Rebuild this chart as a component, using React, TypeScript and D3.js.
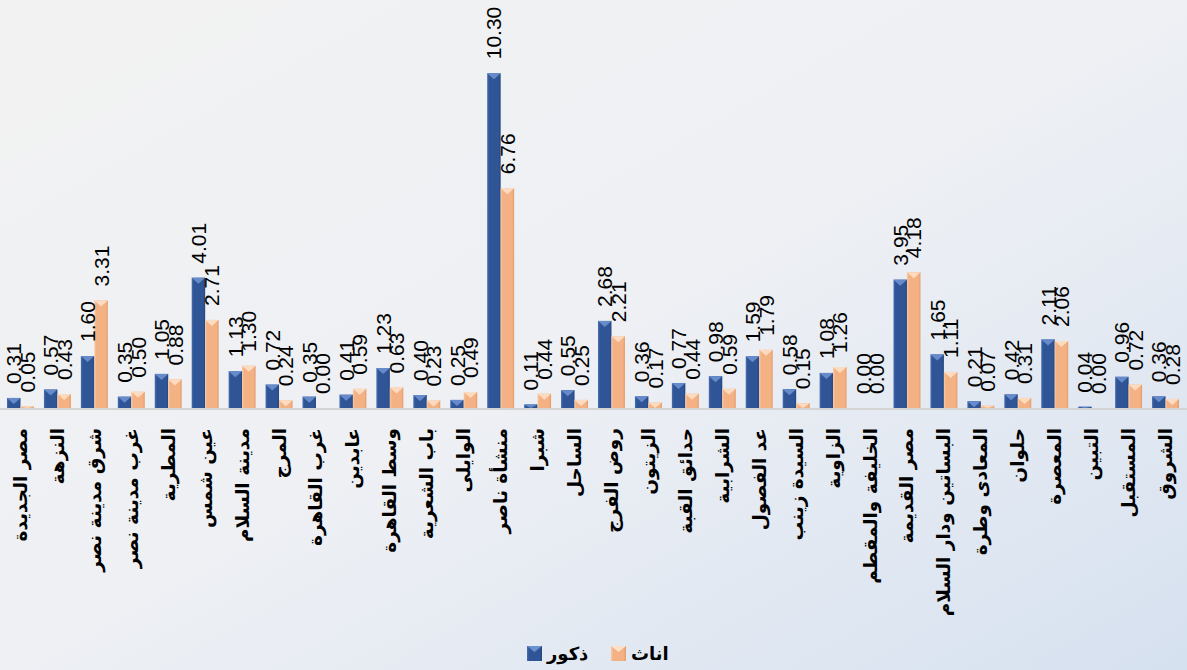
import React from "react";
import * as d3 from "d3";

const categories = [
  "مصر الجديدة", "النزهة", "شرق مدينة نصر", "غرب مدينة نصر", "المطرية", "عين شمس",
  "مدينة السلام", "المرج", "غرب القاهرة", "عابدين", "وسط القاهرة", "باب الشعرية",
  "الوايلى", "منشأة ناصر", "شبرا", "الساحل", "روض الفرج", "الزيتون", "حدائق القبة",
  "الشرابية", "عد الفصول", "السيدة زينب", "الزاوية", "الخليفة والمقطم", "مصر القديمة",
  "البساتين ودار السلام", "المعادى وطرة", "حلوان", "المعصرة", "التبين", "المستقبل", "الشروق",
];
const males = [
  0.31, 0.57, 1.60, 0.35, 1.05, 4.01, 1.13, 0.72, 0.35, 0.41, 1.23, 0.40, 0.25, 10.30,
  0.11, 0.55, 2.68, 0.36, 0.77, 0.98, 1.59, 0.58, 1.08, 0.00, 3.95, 1.65, 0.21, 0.42,
  2.11, 0.04, 0.96, 0.36,
];
const females = [
  0.05, 0.43, 3.31, 0.50, 0.88, 2.71, 1.30, 0.24, 0.00, 0.59, 0.63, 0.23, 0.49, 6.76,
  0.44, 0.25, 2.21, 0.17, 0.44, 0.59, 1.79, 0.15, 1.26, 0.00, 4.18, 1.11, 0.07, 0.31,
  2.06, 0.00, 0.72, 0.28,
];
const seriesNames = ["ذكور", "اناث"];
const seriesKeys = ["m", "f"];

const W = 1187;
const H = 670;
const BASE = 408;

const palette: Record<string, { main: string; light: string; dark: string; top: string }> = {
  m: { main: "#2F5597", light: "#4a70b3", dark: "#24457e", top: "#6d90cf" },
  f: { main: "#F4B183", light: "#f9c9a5", dark: "#e39b6b", top: "#fde0c8" },
};

export default function App() {
  const x = d3.scaleBand<string>().domain(categories).range([2, 1184]).paddingInner(0.27).paddingOuter(0.135);
  const xs = d3.scaleBand<string>().domain(seriesKeys).range([0, x.bandwidth()]);
  const y = d3.scaleLinear().domain([0, 12]).range([BASE, 18]);
  const values: Record<string, number[]> = { m: males, f: females };

  const bars: React.ReactNode[] = [];
  const labels: React.ReactNode[] = [];
  categories.forEach((c, i) => {
    seriesKeys.forEach((k) => {
      const v = values[k][i];
      const bx = (x(c) ?? 0) + (xs(k) ?? 0);
      const bw = xs.bandwidth();
      const top = y(v);
      const h = BASE - top;
      if (h > 0.3) {
        const tri = Math.min(6, h);
        bars.push(
          <g key={`b-${k}-${i}`}>
            <rect x={bx} y={top} width={bw} height={h} fill={`url(#grad-${k})`} />
            <polygon
              points={`${bx},${top} ${bx + bw},${top} ${bx + bw / 2},${top + tri}`}
              fill={palette[k].top}
              opacity={0.9}
            />
          </g>
        );
      }
      const lx = bx + bw / 2;
      const ly = top - 14;
      labels.push(
        <text
          key={`l-${k}-${i}`}
          transform={`translate(${lx},${ly}) rotate(-90)`}
          textAnchor="start"
          dy="0.36em"
          fontFamily="'Liberation Sans', Arial, sans-serif"
          fontSize={21}
          fill="#000"
        >
          {v.toFixed(2)}
        </text>
      );
    });
  });

  const legendItems = [
    { k: "m", sx: 527, tx: 547 },
    { k: "f", sx: 611, tx: 631 },
  ];

  return (
    <div style={{ position: "fixed", left: 0, top: 0, width: W, height: H }}>
      <svg width={W} height={H} style={{ display: "block" }}>
        <defs>
          <linearGradient id="bg" x1="0" y1="0" x2="1" y2="1">
            <stop offset="0" stopColor="#f2f2f2" />
            <stop offset="0.5" stopColor="#eef0f4" />
            <stop offset="1" stopColor="#d6e1f0" />
          </linearGradient>
          {seriesKeys.map((k) => (
            <linearGradient key={k} id={`grad-${k}`} x1="0" y1="0" x2="1" y2="0">
              <stop offset="0" stopColor={palette[k].light} />
              <stop offset="0.15" stopColor={palette[k].main} />
              <stop offset="0.85" stopColor={palette[k].main} />
              <stop offset="1" stopColor={palette[k].dark} />
            </linearGradient>
          ))}
        </defs>
        <rect x={0} y={0} width={W} height={H} fill="url(#bg)" />
        <line x1={0} x2={W} y1={BASE + 1} y2={BASE + 1} stroke="#d4d4d4" strokeWidth={2} />
        {bars}
        {labels}
        {categories.map((c) => (
          <text
            key={`c-${c}`}
            transform={`translate(${(x(c) ?? 0) + x.bandwidth() / 2},${428}) rotate(-90)`}
            textAnchor="end"
            dy="0.35em"
            fontFamily="'DejaVu Sans', sans-serif"
            fontWeight="bold"
            fontSize={18.5}
            fill="#000"
          >
            {c}
          </text>
        ))}
        {legendItems.map((it, j) => (
          <g key={`lg-${it.k}`}>
            <rect x={it.sx} y={646} width={15} height={15} fill={`url(#grad-${it.k})`} />
            <polygon
              points={`${it.sx},${646} ${it.sx + 15},${646} ${it.sx + 7.5},${652}`}
              fill={palette[it.k].top}
            />
            <text
              x={it.tx}
              y={654}
              dy="0.35em"
              fontFamily="'DejaVu Sans', sans-serif"
              fontWeight="bold"
              fontSize={18}
              fill="#000"
            >
              {seriesNames[j]}
            </text>
          </g>
        ))}
      </svg>
    </div>
  );
}
